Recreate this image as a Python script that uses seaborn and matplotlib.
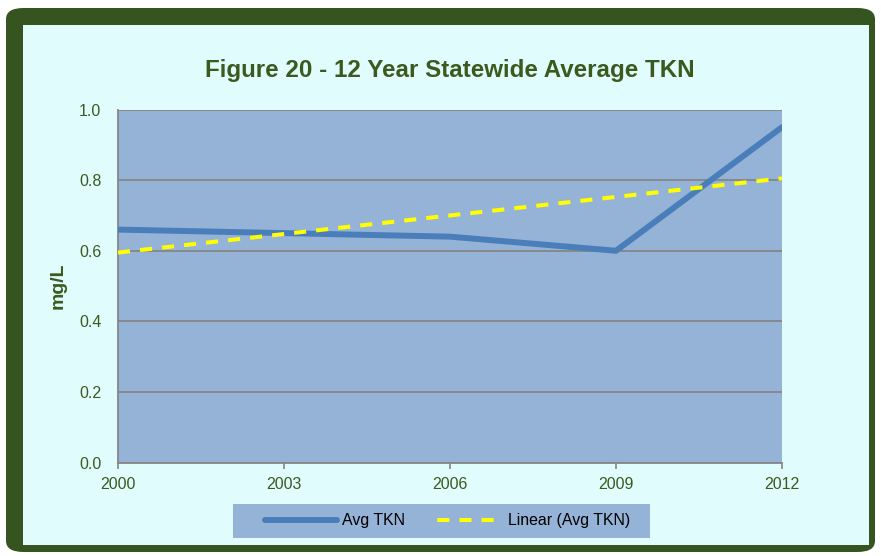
import matplotlib
matplotlib.use("Agg")
import matplotlib.pyplot as plt
import seaborn as sns
import pandas as pd
from matplotlib.patches import FancyBboxPatch, Rectangle
from matplotlib.lines import Line2D

years = [2000, 2003, 2006, 2009, 2012]
avg_tkn = [0.66, 0.65, 0.64, 0.60, 0.95]
trend_years = [2000, 2012]
trend_vals = [0.595, 0.805]
y_ticks = [0.0, 0.2, 0.4, 0.6, 0.8, 1.0]
title = "Figure 20 - 12 Year Statewide Average TKN"
legend_labels = ["Avg TKN", "Linear (Avg TKN)"]

GREEN = "#35541F"
TEXT = "#3B5A1E"
CYAN = "#E0FCFC"
PLOTBG = "#95B3D7"
LINE = "#4A7EBB"
GRID = "#868686"

sns.set_theme(style="white")
plt.rcParams['font.family'] = ['Liberation Sans', 'DejaVu Sans']

W, H = 881, 556
fig = plt.figure(figsize=(W / 100, H / 100), dpi=100)
fig.patch.set_facecolor("white")

# outer border and inner background
fig.patches.append(FancyBboxPatch((6 / W, 4 / H), 869 / W, 544 / H,
                                  boxstyle="round,pad=0,rounding_size=0.02",
                                  transform=fig.transFigure, facecolor=GREEN,
                                  edgecolor="none", zorder=-3))
fig.patches.append(Rectangle((23 / W, (H - 545) / H), (869 - 23) / W, (545 - 25) / H,
                             transform=fig.transFigure, facecolor=CYAN,
                             edgecolor="none", zorder=-2))
# legend background box
fig.patches.append(Rectangle((233 / W, (H - 538) / H), (650 - 233) / W, (538 - 504) / H,
                             transform=fig.transFigure, facecolor=PLOTBG,
                             edgecolor="none", zorder=-1))

left, right, top, bottom = 118, 782, 109.5, 462.7
ax = fig.add_axes([left / W, (H - bottom) / H, (right - left) / W, (bottom - top) / H])
ax.set_zorder(1)
ax.set_facecolor(PLOTBG)

df = pd.DataFrame({"Year": years, "Avg TKN": avg_tkn})
tr = pd.DataFrame({"Year": trend_years, "Trend": trend_vals})

sns.lineplot(data=df, x="Year", y="Avg TKN", ax=ax, color=LINE, lw=4.3,
             solid_capstyle="round", zorder=3)
sns.lineplot(data=tr, x="Year", y="Trend", ax=ax, color="#FFFF00", lw=2.9,
             zorder=4)
ax.lines[-1].set_dashes([3, 2.5])

ax.set_xlim(2000, 2012)
ax.set_ylim(0, 1.0)
ax.set_xticks(years)
ax.set_xticklabels([str(y) for y in years])
ax.set_yticks(y_ticks)
ax.set_yticklabels([f"{v:.1f}" for v in y_ticks])
ax.yaxis.grid(True, color=GRID, lw=1.3)
ax.set_axisbelow(True)
for s in ["top", "right"]:
    ax.spines[s].set_visible(False)
for s in ["left", "bottom"]:
    ax.spines[s].set_color(GRID)
    ax.spines[s].set_linewidth(1.3)
ax.tick_params(axis="x", colors=TEXT, labelsize=11.5, length=4, width=1.2,
               direction="out", color=GRID, pad=6, bottom=True)
ax.tick_params(axis="y", colors=TEXT, labelsize=11.5, length=0, pad=12)
ax.set_xlabel("")
ax.set_ylabel("mg/L", color=TEXT, fontsize=14, fontweight="bold")
ax.yaxis.set_label_coords((67 - left) / (right - left), 0.5)

fig.text(450 / W, (H - 70) / H, title, ha="center", va="center",
         color=TEXT, fontsize=17.4, fontweight="bold")

handles = [Line2D([], [], color=LINE, lw=4.3, solid_capstyle="round"),
           Line2D([], [], color="#FFFF00", lw=2.9, linestyle=(3.7, (3, 2.5)))]
leg = fig.legend(handles, legend_labels, ncol=2,
                 loc="center left", bbox_to_anchor=(265 / W, (H - 521) / H),
                 frameon=False, fontsize=11.4, borderpad=0, borderaxespad=0,
                 handlelength=4.55, columnspacing=1.6, handletextpad=0.32)
for t in leg.get_texts():
    t.set_color("black")

fig.savefig("out.png", dpi=100, facecolor="white")
